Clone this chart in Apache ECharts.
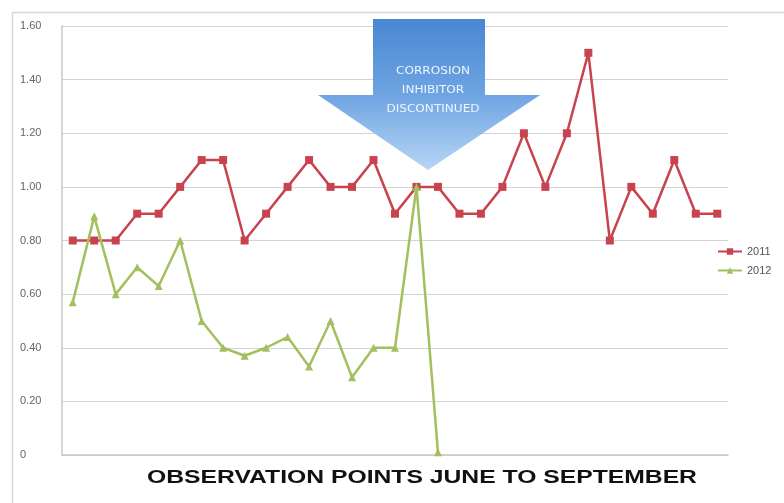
<!DOCTYPE html>
<html><head><meta charset="utf-8">
<script src="https://cdn.jsdelivr.net/npm/echarts@6/dist/echarts.min.js"></script>
<style>html,body{margin:0;padding:0;background:#fff}#c{width:784px;height:503px}</style>
</head><body><div id="c"></div>
<script>
const categories = Array.from({length: 31}, (_, i) => String(i + 1));
const series2011 = [0.80,0.80,0.80,0.90,0.90,1.00,1.10,1.10,0.80,0.90,1.00,1.10,1.00,1.00,1.10,0.90,1.00,1.00,0.90,0.90,1.00,1.20,1.00,1.20,1.50,0.80,1.00,0.90,1.10,0.90,0.90];
const series2012 = [0.57,0.89,0.60,0.70,0.63,0.80,0.50,0.40,0.37,0.40,0.44,0.33,0.50,0.29,0.40,0.40,1.00,0.01];
const yTicks = [0, 0.2, 0.4, 0.6, 0.8, 1.0, 1.2, 1.4, 1.6];
const xTitle = 'OBSERVATION POINTS JUNE TO SEPTEMBER';
const arrowText = 'CORROSION\nINHIBITOR\nDISCONTINUED';

const chart = echarts.init(document.getElementById('c'));
chart.setOption({
  animation: false,
  backgroundColor: '#fff',
  grid: {left: 62, right: 56, top: 26, bottom: 48, containLabel: false},
  legend: {
    orient: 'vertical', left: 712, top: 241, itemGap: 8, itemWidth: 24, itemHeight: 8,
    textStyle: {color: '#555', fontSize: 11, fontFamily: 'Liberation Sans'},
    data: ['2011', '2012']
  },
  xAxis: {
    type: 'category', data: categories, boundaryGap: true,
    axisLine: {lineStyle: {color: '#c8c8c8', width: 1.5}},
    axisTick: {show: false}, axisLabel: {show: false}
  },
  yAxis: {
    type: 'value', min: 0, max: 1.6, interval: 0.2,
    axisLine: {show: true, lineStyle: {color: '#c8c8c8', width: 1.5}},
    axisTick: {show: false},
    splitLine: {lineStyle: {color: '#d4d4d4', width: 1.2}},
    axisLabel: {
      color: '#666', fontSize: 11, fontFamily: 'Liberation Sans', align: 'left', margin: 42,
      formatter: v => v === 0 ? '0' : v.toFixed(2)
    }
  },
  series: [
    {name: '2011', type: 'line', data: series2011, symbol: 'rect', symbolSize: 8,
     lineStyle: {color: '#c9434f', width: 2.5}, itemStyle: {color: '#c9434f'}},
    {name: '2012', type: 'line', data: series2012, symbol: 'triangle', symbolSize: 8,
     lineStyle: {color: '#a3bf5e', width: 2.5}, itemStyle: {color: '#a3bf5e'}}
  ],
  graphic: [
    {type: 'rect', left: 10, top: 10, shape: {width: 790, height: 500},
     style: {fill: 'none', stroke: '#d8d8d8', lineWidth: 1.5}, z: -1},
    {type: 'polygon', z: 100,
     shape: {points: [[373,19],[485,19],[485,95],[540,95],[428,170],[318,95],[373,95]]},
     style: {fill: new echarts.graphic.LinearGradient(0,0,0,1,[{offset:0,color:'#4a87d2'},{offset:0.5,color:'#6ea4e2'},{offset:1,color:'#b7d5f5'}])}},
    {type: 'text', z: 101, x: 433, y: 62, scaleX: 1.15,
     style: {text: arrowText, textAlign: 'center', fill: '#eef5ff', fontSize: 10.5, lineHeight: 19, fontFamily: 'DejaVu Sans'}},
    {type: 'text', z: 101, x: 422, y: 478, scaleX: 1.3,
     style: {text: xTitle, textAlign: 'center', textVerticalAlign: 'middle', fill: '#111', fontSize: 19, fontWeight: 'bold', fontFamily: 'Liberation Sans'}}
  ]
});
</script></body></html>
